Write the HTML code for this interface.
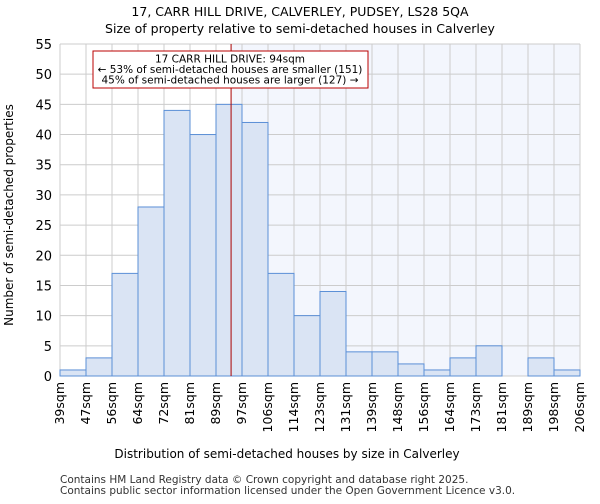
<!DOCTYPE html>
<html><head><meta charset="utf-8"><style>
body{margin:0;background:#fff;font-family:"DejaVu Sans","Liberation Sans",sans-serif}
</style></head><body>
<svg width="600" height="500" font-family="DejaVu Sans, Liberation Sans, sans-serif">
<text x="300" y="16" text-anchor="middle" font-size="12.5">17, CARR HILL DRIVE, CALVERLEY, PUDSEY, LS28 5QA</text>
<text x="300" y="33" text-anchor="middle" font-size="12.5">Size of property relative to semi-detached houses in Calverley</text>
<g id="plot"></g>
<text x="287" y="458" text-anchor="middle" font-size="12">Distribution of semi-detached houses by size in Calverley</text>
<text transform="translate(13,215) rotate(-90)" text-anchor="middle" font-size="12">Number of semi-detached properties</text>
<text x="60" y="483" font-size="10.5" fill="#333">Contains HM Land Registry data © Crown copyright and database right 2025.</text>
<text x="60" y="494" font-size="10.5" fill="#333">Contains public sector information licensed under the Open Government Licence v3.0.</text>
</svg>
<script>
const categories=["39sqm","47sqm","56sqm","64sqm","72sqm","81sqm","89sqm","97sqm","106sqm","114sqm","123sqm","131sqm","139sqm","148sqm","156sqm","164sqm","173sqm","181sqm","189sqm","198sqm","206sqm"];
const counts=[1,3,17,28,44,40,45,42,17,10,14,4,4,2,1,3,5,0,3,1];
const yTicks=[0,5,10,15,20,25,30,35,40,45,50,55];
const marker=6.58;
const L=60,R=580,T=44,B=376,yMax=55;
const n=counts.length,bw=(R-L)/n;
const xs=i=>L+i*bw, ys=v=>B-v*(B-T)/yMax;
const ns="http://www.w3.org/2000/svg";
const g=document.getElementById('plot');
function mk(t,a,p){const e=document.createElementNS(ns,t);for(const k in a)e.setAttribute(k,a[k]);(p||g).appendChild(e);return e;}
const mx=xs(marker);
let e=mk('rect',{x:mx,y:T,width:R-mx,height:B-T,fill:'#f3f6fd'});


for(let i=0;i<=n;i++){e=mk('line',{x1:xs(i),x2:xs(i),y1:T,y2:B,stroke:'#cccccc','stroke-width':1});

}
yTicks.forEach(v=>{e=mk('line',{x1:L,x2:R,y1:ys(v),y2:ys(v),stroke:'#cccccc','stroke-width':1});


e=mk('text',{x:L-8,y:ys(v)+5,'text-anchor':'end','font-size':13});e.textContent=v;

});
counts.forEach((c,i)=>{if(c<=0)return;e=mk('rect',{x:xs(i),y:ys(c),width:bw,height:B-ys(c),fill:'#dae4f4',stroke:'#5b8fd6','stroke-width':1});

});
categories.forEach((c,i)=>{const x=xs(i)+4;e=mk('text',{x:x,y:382,'text-anchor':'end','font-size':12.5,transform:`rotate(-90 ${x} 382)`});e.textContent=c;

});
e=mk('line',{x1:mx,x2:mx,y1:T,y2:B,stroke:'#aa0000','stroke-width':1});


e=mk('rect',{x:93,y:51,width:275,height:37,fill:'#fff',stroke:'#bb0000','stroke-width':1});


["17 CARR HILL DRIVE: 94sqm","← 53% of semi-detached houses are smaller (151)","45% of semi-detached houses are larger (127) →"].forEach((t,i)=>{e=mk('text',{x:230,y:62.5+i*10.5,'text-anchor':'middle','font-size':10.5});e.textContent=t;

});
</script>
</body></html>
